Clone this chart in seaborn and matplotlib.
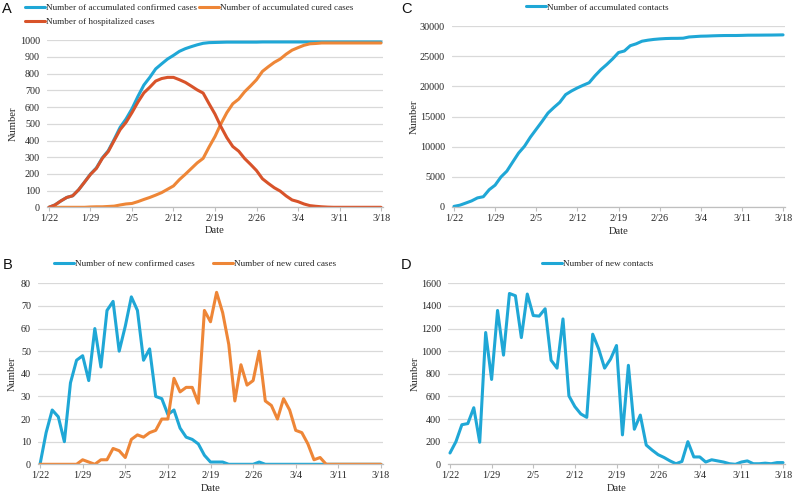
import matplotlib

matplotlib.use("Agg")

import matplotlib.dates as mdates
import matplotlib.pyplot as plt
import pandas as pd
import seaborn as sns

# category axis: one point per day
dates = pd.date_range("2020-01-22", "2020-03-18", freq="D")
tick_dates = pd.date_range("2020-01-22", "2020-03-18", freq="7D")

acc_confirmed = [
    0, 14, 38, 59, 69, 105, 151, 199, 236, 296,
    339, 407, 479, 529, 590, 664, 732, 778, 829, 859,
    888, 910, 934, 950, 962, 973, 982, 986, 987, 988,
    989, 989, 989, 989, 989, 989, 990, 990, 990, 990,
    990, 990, 990, 990, 990, 990, 990, 990, 990, 990,
    990, 990, 990, 990, 990, 990, 990,
]
acc_cured = [
    0, 0, 0, 0, 0, 0, 0, 2, 3, 3,
    5, 7, 14, 20, 23, 34, 47, 59, 73, 88,
    108, 128, 166, 198, 232, 266, 293, 361, 424, 500,
    567, 620, 648, 692, 727, 764, 814, 842, 868, 888,
    917, 941, 956, 970, 979, 981, 984, 984, 984, 984,
    984, 984, 984, 984, 984, 984, 984,
]
hospitalized = [
    0, 14, 38, 59, 69, 105, 151, 197, 233, 293,
    334, 400, 465, 509, 567, 630, 685, 719, 756, 771,
    778, 778, 764, 748, 726, 703, 684, 620, 558, 483,
    417, 364, 336, 292, 257, 220, 171, 143, 117, 97,
    68, 44, 34, 20, 10, 6, 3, 1, 0, 0,
    0, 0, 0, 0, 0, 0, 0,
]
acc_contacts = [
    100, 300, 650, 1010, 1510, 1705, 2870, 3620, 4980, 5945,
    7455, 8945, 10065, 11570, 12885, 14195, 15570, 16490, 17340, 18625,
    19230, 19740, 20185, 20600, 21750, 22770, 23620, 24550, 25600, 25860,
    26735, 27045, 27480, 27650, 27775, 27860, 27920, 27950, 27955, 27980,
    28180, 28245, 28310, 28330, 28370, 28400, 28420, 28425, 28425, 28445,
    28475, 28480, 28485, 28495, 28500, 28515, 28530,
]
new_confirmed = [
    0, 14, 24, 21, 10, 36, 46, 48, 37, 60,
    43, 68, 72, 50, 61, 74, 68, 46, 51, 30,
    29, 22, 24, 16, 12, 11, 9, 4, 1, 1,
    1, 0, 0, 0, 0, 0, 1, 0, 0, 0,
    0, 0, 0, 0, 0, 0, 0, 0, 0, 0,
    0, 0, 0, 0, 0, 0, 0,
]
new_cured = [
    0, 0, 0, 0, 0, 0, 0, 2, 1, 0,
    2, 2, 7, 6, 3, 11, 13, 12, 14, 15,
    20, 20, 38, 32, 34, 34, 27, 68, 63, 76,
    67, 53, 28, 44, 35, 37, 50, 28, 26, 20,
    29, 24, 15, 14, 9, 2, 3, 0, 0, 0,
    0, 0, 0, 0, 0, 0, 0,
]
new_contacts = [
    100, 200, 350, 360, 500, 195, 1165, 750, 1360, 965,
    1510, 1490, 1120, 1505, 1315, 1310, 1375, 920, 850, 1285,
    605, 510, 445, 415, 1150, 1020, 850, 930, 1050, 260,
    875, 310, 435, 170, 125, 85, 60, 30, 5, 25,
    200, 65, 65, 20, 40, 30, 20, 5, 0, 20,
    30, 5, 5, 10, 5, 15, 15,
]

BLUE = "#1fa7d6"
ORANGE = "#ee8637"
RED = "#d8532a"
W, H = 793, 495

sns.set_theme(style="whitegrid")
plt.rcParams["font.family"] = ["Liberation Serif", "DejaVu Serif"]


def _px_axes(fig, x0, y0, x1, y1):
    return fig.add_axes([x0 / W, 1 - y1 / H, (x1 - x0) / W, (y1 - y0) / H])


def _style_axis(ax, box, yticks, ylab_x, date_y):
    x0, y0, x1, y1 = box
    ax.set_ylim(yticks[0], yticks[-1])
    ax.set_yticks(yticks)
    ax.set_xlim(dates[0] - pd.Timedelta(hours=8), dates[-1] + pd.Timedelta(hours=8))
    ax.set_xticks(tick_dates)
    ax.xaxis.set_major_formatter(mdates.DateFormatter("%-m/%-d"))
    ax.grid(axis="x", visible=False)
    ax.grid(axis="y", color="#d9d9d9", linewidth=0.9)
    for side in ["left", "top", "right"]:
        ax.spines[side].set_visible(False)
    ax.spines["bottom"].set_color("#bfbfbf")
    ax.spines["bottom"].set_linewidth(0.9)
    ax.tick_params(axis="y", length=0, pad=5, labelsize=7.3, labelcolor="#262626")
    ax.tick_params(axis="x", length=3, width=0.8, color="#bfbfbf", pad=2,
                   labelsize=7.3, labelcolor="#262626", bottom=True)
    ax.set_xlabel("Date", fontsize=7.6, color="#262626")
    ax.set_ylabel("Number", fontsize=7.6, color="#262626")
    # label coords: top of "Date", right side of rotated "Number"
    ax.xaxis.set_label_coords(0.5, (y1 - (date_y - 5)) / (y1 - y0))
    ax.yaxis.set_label_coords((ylab_x + 5 - x0) / (x1 - x0), 0.5)


def _legend(fig, ax, handles_order, x, y, ncol=1, colsp=0.3):
    handles, labels = ax.get_legend_handles_labels()
    lookup = dict(zip(labels, handles))
    ax.legend(
        [lookup[k] for k in handles_order], handles_order,
        loc="center left", bbox_to_anchor=(x / W, 1 - y / H),
        bbox_transform=fig.transFigure, ncol=ncol, frameon=False,
        fontsize=6.6, handlelength=2.2, handletextpad=0.1,
        columnspacing=colsp, labelspacing=0.6, borderpad=0,
        borderaxespad=0,
    )


fig = plt.figure(figsize=(W / 100, H / 100), dpi=100)

# Panel A
box_a = (47, 40.3, 383, 207.3)
ax_a = _px_axes(fig, *box_a)
sns.lineplot(x=dates, y=acc_confirmed, ax=ax_a, color=BLUE, lw=2.2,
             label="Number of accumulated confirmed cases")
sns.lineplot(x=dates, y=acc_cured, ax=ax_a, color=ORANGE, lw=2.2,
             label="Number of accumulated cured cases")
sns.lineplot(x=dates, y=hospitalized, ax=ax_a, color=RED, lw=2.2,
             label="Number of hospitalized cases")
_style_axis(ax_a, box_a, list(range(0, 1001, 100)), 13, 231)
_legend(fig, ax_a, ["Number of accumulated confirmed cases",
                    "Number of hospitalized cases",
                    "Number of accumulated cured cases"], 25, 15, ncol=2, colsp=0.2)

# Panel C
box_c = (452, 26, 785, 207)
ax_c = _px_axes(fig, *box_c)
sns.lineplot(x=dates, y=acc_contacts, ax=ax_c, color=BLUE, lw=2.2,
             label="Number of accumulated contacts")
_style_axis(ax_c, box_c, list(range(0, 30001, 5000)), 414, 232)
_legend(fig, ax_c, ["Number of accumulated contacts"], 526, 7.5)

# Panel B
box_b = (38, 283.3, 383, 464.3)
ax_b = _px_axes(fig, *box_b)
sns.lineplot(x=dates, y=new_confirmed, ax=ax_b, color=BLUE, lw=2.2,
             label="Number of new confirmed cases")
sns.lineplot(x=dates, y=new_cured, ax=ax_b, color=ORANGE, lw=2.2,
             label="Number of new cured cases")
_style_axis(ax_b, box_b, list(range(0, 81, 10)), 12, 489)
_legend(fig, ax_b, ["Number of new confirmed cases",
                    "Number of new cured cases"], 54, 264, ncol=2, colsp=2.0)

# Panel D
box_d = (448, 283.3, 785, 464.3)
ax_d = _px_axes(fig, *box_d)
sns.lineplot(x=dates, y=new_contacts, ax=ax_d, color=BLUE, lw=2.2,
             label="Number of new contacts")
_style_axis(ax_d, box_d, list(range(0, 1601, 200)), 415, 489)
_legend(fig, ax_d, ["Number of new contacts"], 542, 264)

for letter, (lx, ly) in {"A": (2, 9), "C": (401, 9), "B": (3, 265), "D": (401, 265)}.items():
    fig.text(lx / W, 1 - ly / H, letter, fontsize=10.5, family="Liberation Sans",
             ha="left", va="center", color="#111111")

fig.savefig("out.png", dpi=100)
